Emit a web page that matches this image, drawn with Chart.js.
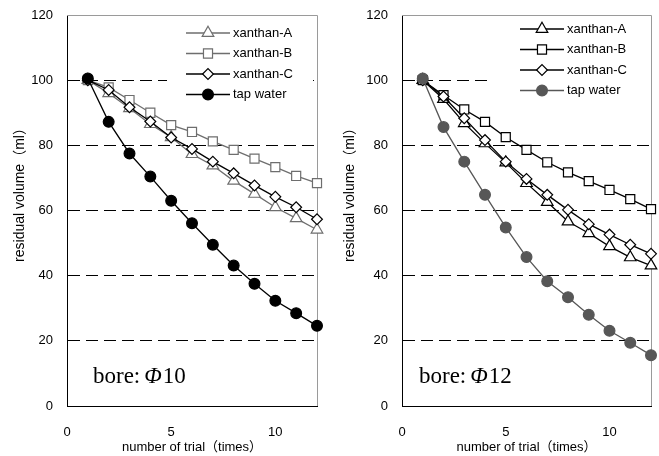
<!DOCTYPE html>
<html>
<head>
<meta charset="utf-8">
<script src="https://cdn.jsdelivr.net/npm/chart.js@4.4.0/dist/chart.umd.min.js"></script>
<style>
body { margin: 0; background: #fff; }
#wrap { position: relative; width: 659px; height: 456px; }
canvas { position: absolute; top: 0; }
</style>
</head>
<body>
<div id="wrap">
  <canvas id="chart10" width="330" height="456" style="left:0"></canvas>
  <canvas id="chart12" width="329" height="456" style="left:330px"></canvas>
</div>
<script>
// data
const trials = [1, 2, 3, 4, 5, 6, 7, 8, 9, 10, 11, 12];
const xTicks = [0, 5, 10];
const yTicks = [0, 20, 40, 60, 80, 100, 120];
const seriesNames = ['xanthan-A', 'xanthan-B', 'xanthan-C', 'tap water'];

// bore 10
const xanthanA_10 = [100, 96.0, 91.4, 86.5, 82.5, 77.3, 73.8, 69.1, 65.1, 61.0, 57.6, 54.1];
const xanthanB_10 = [100, 97.8, 93.9, 90.0, 86.2, 84.1, 81.2, 78.6, 75.9, 73.3, 70.6, 68.4];
const xanthanC_10 = [100, 97.0, 91.7, 87.3, 82.4, 78.9, 75.0, 71.4, 67.7, 64.2, 61.0, 57.3];
const tapWater_10 = [100.5, 87.2, 77.5, 70.4, 63.0, 56.1, 49.5, 43.1, 37.5, 32.3, 28.5, 24.6];

// bore 12
const xanthanA_12 = [100, 94.2, 86.8, 80.6, 74.7, 68.4, 62.6, 56.6, 53.0, 49.0, 45.6, 43.1];
const xanthanB_12 = [100, 95.4, 91.0, 87.2, 82.5, 78.6, 74.8, 71.7, 69.0, 66.3, 63.5, 60.4];
const xanthanC_12 = [100, 95.0, 88.3, 81.6, 75.0, 69.7, 64.8, 60.2, 55.8, 52.6, 49.5, 46.7];
const tapWater_12 = [100.5, 85.6, 75.0, 64.8, 54.8, 45.7, 38.3, 33.4, 28.0, 23.1, 19.4, 15.6];

const FONT = "'Liberation Sans', Arial, 'Noto Sans CJK JP', sans-serif";
const GRAY = '#6e6e6e';
const DARK = '#575757';

function points(values) {
  return values.map((v, i) => ({ x: trials[i], y: v }));
}

function series(label, values, style, color, fill, order) {
  return {
    label: label,
    data: points(values),
    pointStyle: style,
    borderColor: color,
    backgroundColor: fill,
    pointBorderColor: color,
    pointBackgroundColor: fill,
    borderWidth: 1.3,
    pointBorderWidth: 1.2,
    pointRadius: style == 'triangle' ? 6.7 : style == 'rect' ? 6.4 : 5.4,
    tension: 0,
    clip: false,
    order: order
  };
}

function drawMarker(ctx, ds, x, y) {
  ctx.fillStyle = ds.pointBackgroundColor;
  ctx.strokeStyle = ds.pointBorderColor;
  ctx.lineWidth = ds.pointBorderWidth;
  Chart.helpers.drawPoint(ctx, {
    pointStyle: ds.pointStyle,
    radius: ds.pointRadius,
    rotation: 0,
    borderWidth: ds.pointBorderWidth
  }, x, y);
}

const extras = {
  id: 'extras',
  beforeDatasetsDraw(chart) {
    // light frame on top and right
    const ctx = chart.ctx, a = chart.chartArea;
    ctx.save();
    ctx.strokeStyle = '#9a9a9a';
    ctx.lineWidth = 1;
    ctx.beginPath();
    ctx.moveTo(a.left, a.top + 0.5);
    ctx.lineTo(a.right + 0.5, a.top + 0.5);
    ctx.lineTo(a.right + 0.5, a.bottom);
    ctx.stroke();
    ctx.restore();
  },
  afterDatasetsDraw(chart, args, opts) {
    const ctx = chart.ctx, a = chart.chartArea;
    ctx.save();

    // legend inside the plot
    ctx.fillStyle = '#fff';
    ctx.fillRect(a.right - opts.boxLeft, a.top + 1, opts.boxLeft - opts.boxGap, 90);
    chart.data.datasets.forEach((ds, i) => {
      const y = a.top + opts.legendTop + i * 20.5;
      ctx.strokeStyle = ds.borderColor;
      ctx.lineWidth = ds.borderWidth;
      ctx.beginPath();
      ctx.moveTo(a.right - 131, y);
      ctx.lineTo(a.right - 87, y);
      ctx.stroke();
      drawMarker(ctx, ds, a.right - 109, y);
      ctx.fillStyle = '#000';
      ctx.font = '13px ' + FONT;
      ctx.textAlign = 'left';
      ctx.textBaseline = 'middle';
      ctx.fillText(ds.label, a.right - 84, y);
    });

    // bore label
    let x = a.left + opts.boreX;
    const by = a.bottom - 23;
    ctx.fillStyle = '#000';
    ctx.textBaseline = 'alphabetic';
    ctx.font = "23px 'Liberation Serif', 'DejaVu Serif', serif";
    ctx.fillText('bore:', x, by);
    x += ctx.measureText('bore:').width + 4;
    ctx.font = "italic 23px 'Liberation Serif', 'DejaVu Serif', serif";
    ctx.fillText('Φ', x, by);
    x += ctx.measureText('Φ').width + 1;
    ctx.font = "23px 'Liberation Serif', 'DejaVu Serif', serif";
    ctx.fillText(opts.bore, x, by);

    // y axis title
    ctx.translate(20.5, (a.top + a.bottom) / 2 - 19);
    ctx.rotate(-Math.PI / 2);
    ctx.font = '14px ' + FONT;
    ctx.textAlign = 'center';
    ctx.textBaseline = 'middle';
    ctx.fillText('residual volume（ml）', 0, 0);
    ctx.restore();
  }
};

function make_chart(id, datasets, axisWidth, rightPad, opts) {
  return new Chart(document.getElementById(id), {
    type: 'line',
    data: { datasets: datasets },
    plugins: [extras],
    options: {
      responsive: false,
      animation: false,
      layout: { padding: { top: 15, right: rightPad, left: 0, bottom: 0 } },
      plugins: {
        legend: { display: false },
        tooltip: { enabled: false },
        extras: opts
      },
      scales: {
        x: {
          type: 'linear',
          min: 0,
          max: 12,
          afterBuildTicks: s => { s.ticks = xTicks.map(v => ({ value: v })); },
          afterFit: s => { s.height = 50; },
          ticks: { color: '#000', font: { size: 13, family: FONT }, padding: 19, maxRotation: 0 },
          grid: { display: false, drawTicks: false },
          border: { color: '#000', width: 1 },
          title: {
            display: true,
            text: 'number of trial（times）',
            color: '#000',
            font: { size: 13, family: FONT },
            padding: { top: 0, bottom: 1 }
          }
        },
        y: {
          min: 0,
          max: 120,
          afterBuildTicks: s => { s.ticks = yTicks.map(v => ({ value: v })); },
          afterFit: s => { s.width = axisWidth; },
          ticks: { color: '#000', font: { size: 13, family: FONT }, padding: 5 },
          grid: {
            drawTicks: true,
            tickLength: 9,
            tickColor: 'rgba(0,0,0,0)',
            color: c => (c.tick && (c.tick.value == 0 || c.tick.value == 120)) ? 'rgba(0,0,0,0)' : '#000',
            lineWidth: 1
          },
          border: { color: '#000', width: 1, dash: [12, 6] }
        }
      }
    }
  });
}

make_chart('chart10', [
  series(seriesNames[0], xanthanA_10, 'triangle', GRAY, '#fff', 3),
  series(seriesNames[1], xanthanB_10, 'rect', GRAY, '#fff', 2),
  series(seriesNames[2], xanthanC_10, 'rectRot', '#000', '#fff', 1),
  series(seriesNames[3], tapWater_10, 'circle', '#000', '#000', 0)
], 67, 13, { bore: '10', legendTop: 18, boxLeft: 150, boxGap: 4, boreX: 26 });

make_chart('chart12', [
  series(seriesNames[0], xanthanA_12, 'triangle', '#000', '#fff', 3),
  series(seriesNames[1], xanthanB_12, 'rect', '#000', '#fff', 2),
  series(seriesNames[2], xanthanC_12, 'rectRot', '#000', '#fff', 1),
  series(seriesNames[3], tapWater_12, 'circle', DARK, DARK, 0)
], 72, 8, { bore: '12', legendTop: 14, boxLeft: 164, boxGap: 2, boreX: 17 });
</script>
</body>
</html>
